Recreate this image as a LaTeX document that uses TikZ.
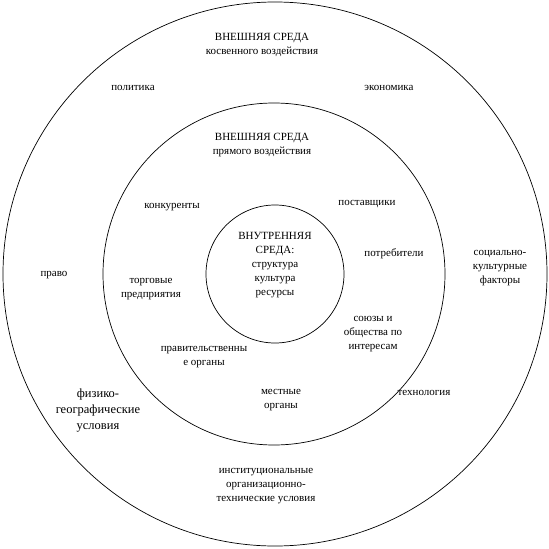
\documentclass[tikz,border=0pt]{standalone}
\usepackage{fontspec}
\setmainfont{Liberation Serif}

\begin{document}
\begin{tikzpicture}[
  x=1pt,y=-1pt,
  every node/.style={font=\fontsize{11}{14}\selectfont,align=center,inner sep=0pt},
  ring/.style={draw,circle,line width=0.7pt,minimum size=#1},
  big/.style={font=\fontsize{12.5}{16}\selectfont}
]
\useasboundingbox (0,0) rectangle (549,549);
% three environments
\node[ring=544pt] (outer) at (275,274) {};
\node[ring=342pt] (middle) at (274,274) {};
\node[ring=138pt] (inner) at (275,274) {};
% outer ring: indirect influence
\node (otitle) at (262,45) {ВНЕШНЯЯ СРЕДА\\косвенного воздействия};
\node (polit) at (133,88) {политика};
\node (econ) at (389,88) {экономика};
\node (pravo) at (54,275) {право};
\node (socio) at (500,268) {социально-\\культурные\\факторы};
\node[big] (fiz) at (98,411) {физико-\\географические\\условия};
\node (tech) at (424,393) {технология};
\node (inst) at (266,486) {институциональные\\организационно-\\технические условия};
% middle ring: direct influence
\node (mtitle) at (262,145) {ВНЕШНЯЯ СРЕДА\\прямого воздействия};
\node (konk) at (172,207) {конкуренты};
\node (post) at (367,204) {поставщики};
\node (potr) at (394,254) {потребители};
\node (torg) at (151,289.5) {торговые\\предприятия};
\node (soyuz) at (373,334) {союзы и\\общества по\\интересам};
\node (prav) at (204,357.5) {правительственны\\е органы};
\node (mest) at (281,400.5) {местные\\органы};
% inner circle
\node (ititle) at (275,265.5) {ВНУТРЕННЯЯ\\СРЕДА:\\структура\\культура\\ресурсы};
\end{tikzpicture}
\end{document}
